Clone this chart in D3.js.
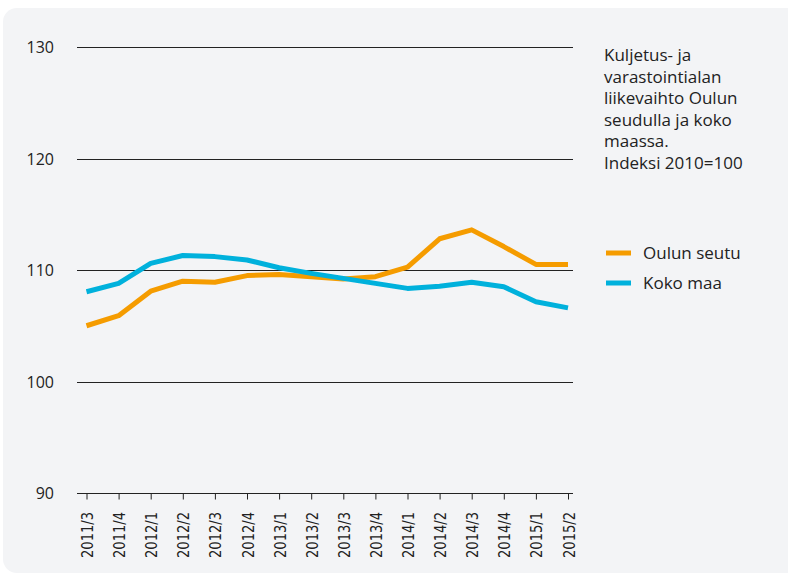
<!DOCTYPE html>
<html>
<head>
<meta charset="utf-8">
<script src="https://cdn.jsdelivr.net/npm/d3@7"></script>
<style>
  body { margin: 0; background: #fff; }
  svg { display: block; }
</style>
</head>
<body>
<div id="chart"></div>
<script>
var quarters = ["2011/3","2011/4","2012/1","2012/2","2012/3","2012/4","2013/1","2013/2",
                "2013/3","2013/4","2014/1","2014/2","2014/3","2014/4","2015/1","2015/2"];
var oulunSeutu = [105.0,105.9,108.1,109.0,108.9,109.5,109.6,109.4,109.2,109.4,110.25,112.8,113.6,112.1,110.5,110.5];
var kokoMaa = [108.05,108.8,110.6,111.3,111.2,110.9,110.2,109.7,109.25,108.8,108.35,108.55,108.9,108.5,107.15,106.6];
var yTicks = [90,100,110,120,130];
var seriesNames = ["Oulun seutu","Koko maa"];
var titleLines = ["Kuljetus- ja","varastointialan","liikevaihto Oulun","seudulla ja koko","maassa.","Indeksi 2010=100"];

var width = 788, height = 574;
var colors = ["#f59c00", "#00b1dc"];
var font = "'Open Sans', 'Noto Sans', sans-serif";

var svg = d3.select("#chart").append("svg")
    .attr("width", width)
    .attr("height", height);

// panel
svg.append("rect")
    .attr("x", 3).attr("y", 8)
    .attr("width", 800).attr("height", 565)
    .attr("rx", 14)
    .attr("fill", "#f3f4f6");

var x = d3.scalePoint().domain(quarters).range([86.5, 568]);
var y = d3.scaleLinear().domain([90, 130]).range([493, 47]);

// gridlines
svg.append("g")
    .selectAll("line")
    .data(yTicks)
    .enter().append("line")
    .attr("x1", 77).attr("x2", 573)
    .attr("y1", function(d){ return Math.round(y(d)) + 0.5; })
    .attr("y2", function(d){ return Math.round(y(d)) + 0.5; })
    .attr("stroke", "#222")
    .attr("stroke-width", 1);

// y labels
svg.append("g")
    .selectAll("text")
    .data(yTicks)
    .enter().append("text")
    .attr("x", 54)
    .attr("y", function(d){ return y(d) + 6; })
    .attr("text-anchor", "end")
    .attr("font-family", font)
    .attr("font-size", 16)
    .attr("fill", "#222")
    .text(function(d){ return d; });

// x axis
var xAxis = d3.axisBottom(x).tickSize(6).tickPadding(0).tickFormat("");
var gx = svg.append("g")
    .attr("transform", "translate(0," + 493.5 + ")")
    .call(xAxis);
gx.select(".domain").remove();
gx.selectAll(".tick line").attr("stroke", "#222");

svg.append("g")
    .selectAll("text")
    .data(quarters)
    .enter().append("text")
    .attr("transform", function(d){ return "translate(" + (x(d) + 6.5) + ",512) rotate(-90)"; })
    .attr("text-anchor", "end")
    .attr("font-family", "'Liberation Sans Narrow', 'DejaVu Sans Condensed', sans-serif")
    .attr("font-size", 16)
    .attr("textLength", 46)
    .attr("lengthAdjust", "spacingAndGlyphs")
    .attr("fill", "#222")
    .text(function(d){ return d; });

// lines
var line = d3.line()
    .x(function(d, i){ return x(quarters[i]); })
    .y(function(d){ return y(d); });

[oulunSeutu, kokoMaa].forEach(function(s, i){
  svg.append("path")
      .datum(s)
      .attr("d", line)
      .attr("fill", "none")
      .attr("stroke", colors[i])
      .attr("stroke-width", 5)
      .attr("stroke-linejoin", "round");
});

// legend
var leg = svg.append("g")
    .selectAll("g")
    .data(seriesNames)
    .enter().append("g")
    .attr("transform", function(d, i){ return "translate(606," + (253 + i * 30) + ")"; });
leg.append("line")
    .attr("x1", 0).attr("x2", 25)
    .attr("stroke", function(d, i){ return colors[i]; })
    .attr("stroke-width", 5);
leg.append("text")
    .attr("x", 37).attr("y", 6)
    .attr("font-family", font)
    .attr("font-size", 17)
    .attr("fill", "#222")
    .text(function(d){ return d; });

// title
svg.append("text")
    .attr("font-family", font)
    .attr("font-size", 17)
    .attr("fill", "#222")
    .selectAll("tspan")
    .data(titleLines)
    .enter().append("tspan")
    .attr("x", 604)
    .attr("y", function(d, i){ return 61 + i * 21.5; })
    .text(function(d){ return d; });
</script>
</body>
</html>
